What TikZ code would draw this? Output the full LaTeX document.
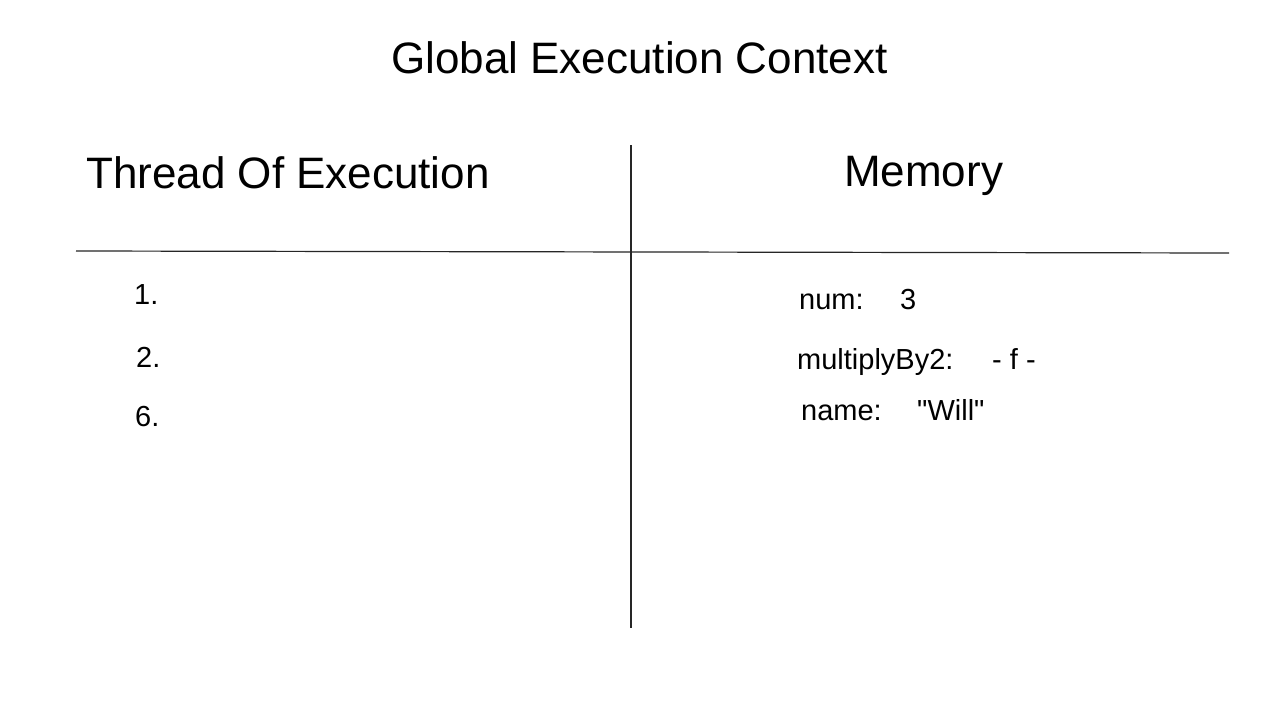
\documentclass[tikz,border=0pt]{standalone}
\usepackage{fontspec}
\setmainfont{Liberation Sans}[Ligatures=TeXOff]
\begin{document}
\begin{tikzpicture}[x=1pt,y=-1pt,
  big/.style={anchor=base west,inner sep=0pt,font=\fontsize{44}{50}\selectfont},
  small/.style={anchor=base west,inner sep=0pt,font=\fontsize{29}{34}\selectfont},
  rule/.style={line width=1.2pt,black!85}]
\useasboundingbox[fill=white] (0,0) rectangle (1280,720);
\node[big] (title) at (391,73) {Global Execution Context};
\node[big] (thread) at (86,188) {Thread Of Execution};
\node[big] (memory) at (844,186) {Memory};
\coordinate (vtop) at (631,145);
\coordinate (vbot) at (631,628);
\coordinate (hl) at (76,251);
\coordinate (hr) at (1229,253);
\draw[rule] (vtop) -- (vbot);
\draw[rule] (hl) -- (hr);
\node[small] (l1) at (134,304) {1.};
\node[small] (l2) at (136,367) {2.};
\node[small] (l6) at (135,426) {6.};
\node[small] (knum) at (799,309) {num:};
\node[small] (vnum) at (900,309) {3};
\node[small] (kmul) at (797,369) {multiplyBy2:};
\node[small] (vmul) at (992,369) {- f -};
\node[small] (kname) at (801,420) {name:};
\node[small] (vname) at (917,420) {"Will"};
\end{tikzpicture}
\end{document}
